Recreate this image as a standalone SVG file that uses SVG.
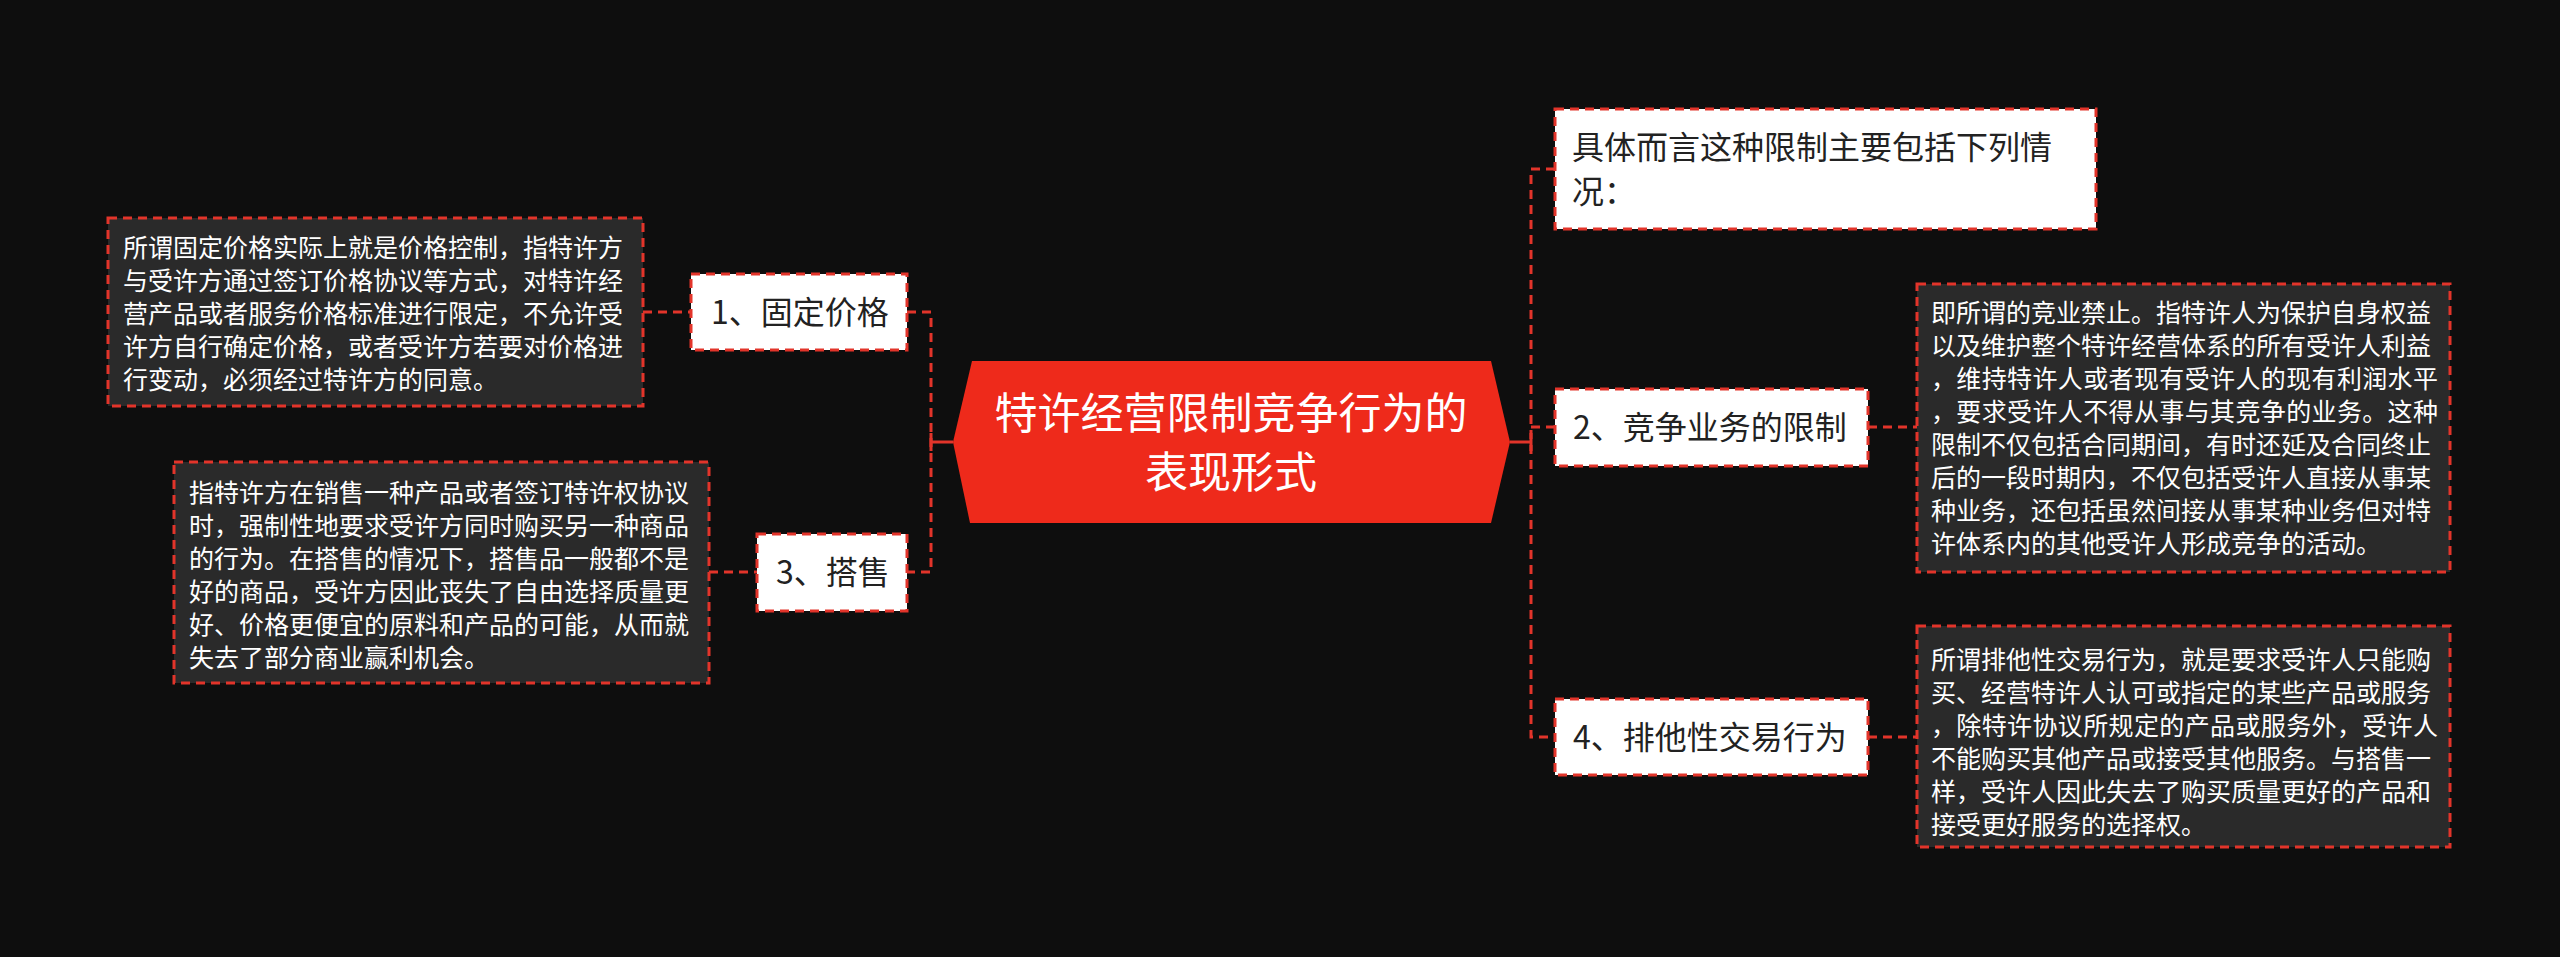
<svg xmlns="http://www.w3.org/2000/svg" width="2560" height="957" viewBox="0 0 2560 957">
<style>
.bg{fill:#0e0e0e}
.desc{fill:#2a2a2a;stroke:#e2342a;stroke-width:3;stroke-dasharray:9 6}
.node{fill:#ffffff;stroke:#e2342a;stroke-width:3;stroke-dasharray:9 6}
.dt{font-family:"Noto Sans CJK SC","Noto Sans",sans-serif;font-size:25px;fill:#ffffff}
.nt{font-family:"Noto Sans CJK SC","Noto Sans",sans-serif;font-size:32px;fill:#222222}
.ct{font-family:"Noto Sans CJK SC","Noto Sans",sans-serif;font-size:43px;fill:#ffffff;text-anchor:middle}
.dash{fill:none;stroke:#e2342a;stroke-width:3;stroke-dasharray:9 6}
.solid{fill:none;stroke:#e2342a;stroke-width:3}
</style>
<rect class="bg" x="0" y="0" width="2560" height="957"/>

<g id="connectors">
  <path class="dash" d="M907 312 H931 V572 H907"/>
  <path class="solid" d="M953 442 H931 M931 433 V451"/>
  <path class="dash" d="M643 312 H691"/>
  <path class="dash" d="M709 572 H757"/>
  <path class="dash" d="M1555 169 H1531 V737 H1555"/>
  <path class="dash" d="M1531 427 H1555"/>
  <path class="solid" d="M1510 442 H1531 M1531 433 V451"/>
  <path class="dash" d="M1868 427 H1917"/>
  <path class="dash" d="M1868 737 H1917"/>
</g>

<g id="center">
  <polygon points="972,361 1491,361 1510,442 1491,523 970,523 953,442" fill="#ee2a1b"/>
  <text class="ct" x="1231" y="428.5">特许经营限制竞争行为的</text>
  <text class="ct" x="1231" y="487.5">表现形式</text>
</g>

<g id="node1">
  <rect class="node" x="691" y="274" width="216" height="76"/>
  <text class="nt" x="711" y="323.5">1、固定价格</text>
</g>

<g id="desc1">
  <rect class="desc" x="108" y="218" width="535" height="188"/>
  <text class="dt" x="123" y="257">所谓固定价格实际上就是价格控制，指特许方</text>
  <text class="dt" x="123" y="290">与受许方通过签订价格协议等方式，对特许经</text>
  <text class="dt" x="123" y="323">营产品或者服务价格标准进行限定，不允许受</text>
  <text class="dt" x="123" y="356">许方自行确定价格，或者受许方若要对价格进</text>
  <text class="dt" x="123" y="389">行变动，必须经过特许方的同意。</text>
</g>

<g id="node3">
  <rect class="node" x="757" y="534" width="150" height="77"/>
  <text class="nt" x="776" y="583.5">3、搭售</text>
</g>

<g id="desc3">
  <rect class="desc" x="174" y="462" width="535" height="221"/>
  <text class="dt" x="189" y="502">指特许方在销售一种产品或者签订特许权协议</text>
  <text class="dt" x="189" y="535">时，强制性地要求受许方同时购买另一种商品</text>
  <text class="dt" x="189" y="568">的行为。在搭售的情况下，搭售品一般都不是</text>
  <text class="dt" x="189" y="601">好的商品，受许方因此丧失了自由选择质量更</text>
  <text class="dt" x="189" y="634">好、价格更便宜的原料和产品的可能，从而就</text>
  <text class="dt" x="189" y="667">失去了部分商业赢利机会。</text>
</g>

<g id="node0">
  <rect class="node" x="1555" y="109" width="541" height="120"/>
  <text class="nt" x="1572" y="159">具体而言这种限制主要包括下列情</text>
  <text class="nt" x="1572" y="203">况：</text>
</g>

<g id="node2">
  <rect class="node" x="1555" y="389" width="313" height="77"/>
  <text class="nt" x="1573" y="438.5">2、竞争业务的限制</text>
</g>

<g id="desc2">
  <rect class="desc" x="1917" y="284" width="533" height="288"/>
  <text class="dt" x="1931" y="322">即所谓的竞业禁止。指特许人为保护自身权益</text>
  <text class="dt" x="1931" y="355">以及维护整个特许经营体系的所有受许人利益</text>
  <text class="dt" x="1931" y="388" textLength="507" lengthAdjust="spacing">，维持特许人或者现有受许人的现有利润水平</text>
  <text class="dt" x="1931" y="421" textLength="507" lengthAdjust="spacing">，要求受许人不得从事与其竞争的业务。这种</text>
  <text class="dt" x="1931" y="454">限制不仅包括合同期间，有时还延及合同终止</text>
  <text class="dt" x="1931" y="487">后的一段时期内，不仅包括受许人直接从事某</text>
  <text class="dt" x="1931" y="520">种业务，还包括虽然间接从事某种业务但对特</text>
  <text class="dt" x="1931" y="553">许体系内的其他受许人形成竞争的活动。</text>
</g>

<g id="node4">
  <rect class="node" x="1555" y="699" width="313" height="76"/>
  <text class="nt" x="1573" y="748.5">4、排他性交易行为</text>
</g>

<g id="desc4">
  <rect class="desc" x="1917" y="626" width="533" height="221"/>
  <text class="dt" x="1931" y="669">所谓排他性交易行为，就是要求受许人只能购</text>
  <text class="dt" x="1931" y="702">买、经营特许人认可或指定的某些产品或服务</text>
  <text class="dt" x="1931" y="735" textLength="507" lengthAdjust="spacing">，除特许协议所规定的产品或服务外，受许人</text>
  <text class="dt" x="1931" y="768">不能购买其他产品或接受其他服务。与搭售一</text>
  <text class="dt" x="1931" y="801">样，受许人因此失去了购买质量更好的产品和</text>
  <text class="dt" x="1931" y="834">接受更好服务的选择权。</text>
</g>
</svg>
